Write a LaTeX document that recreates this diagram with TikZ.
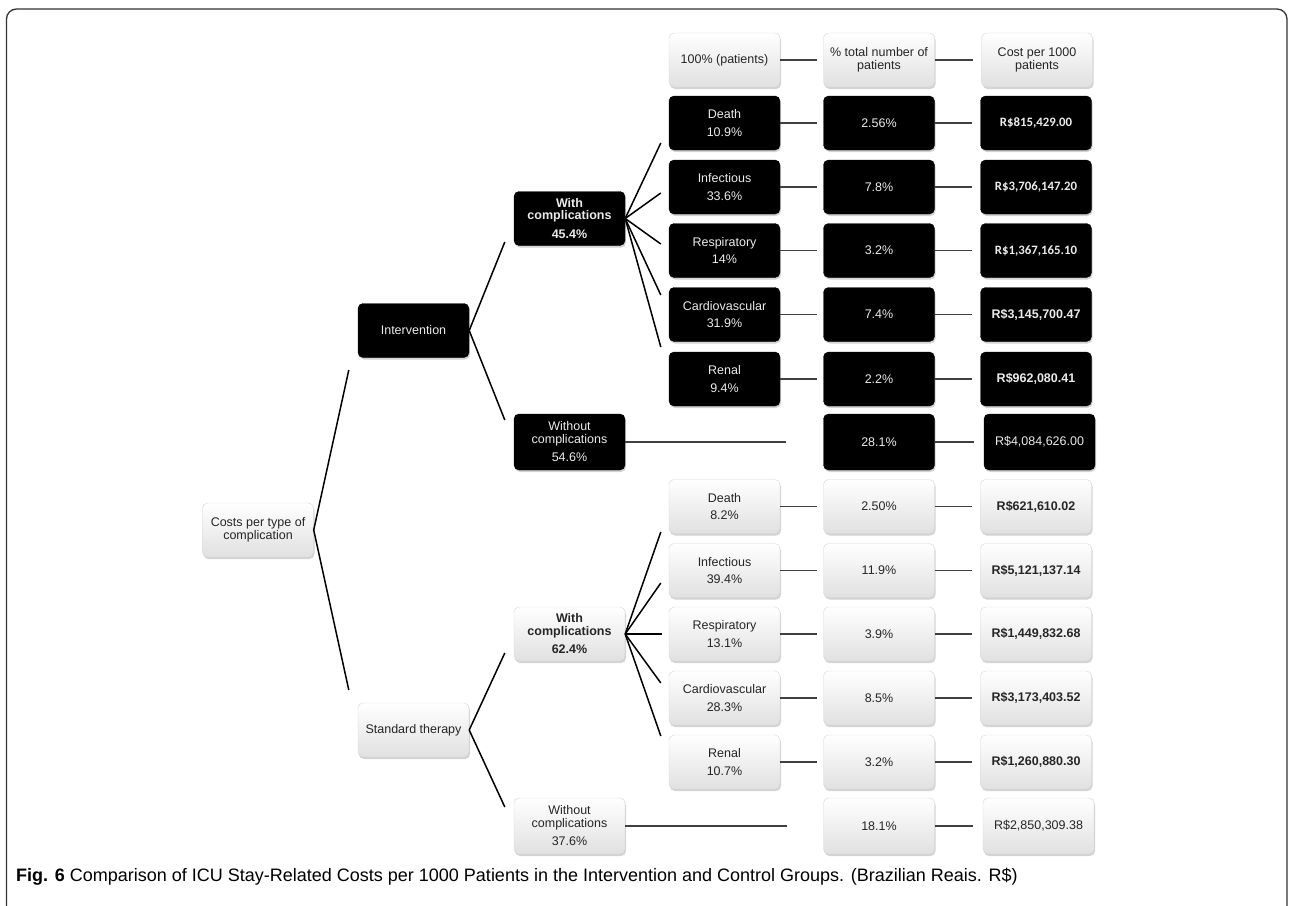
\documentclass[tikz,border=0pt]{standalone}
\usepackage{fontspec}
\setmainfont{Liberation Sans}
\newfontfamily\calib{Carlito}
\usetikzlibrary{calc,shadows}
\begin{document}
\begin{tikzpicture}[x=1bp,y=-1bp,
  box/.style={rounded corners=5bp, minimum width=111bp, minimum height=54bp,
    inner sep=0pt, align=center, font=\fontsize{12.5bp}{12.5bp}\selectfont},
  wbox/.style={box, draw=black!16, top color=white, bottom color=black!12,
    text=black!85, drop shadow={opacity=0.35, shadow xshift=1bp, shadow yshift=-2bp}},
  bbox/.style={box, fill=black, draw=black, text=white!92!black,
    drop shadow={opacity=0.35, shadow xshift=1bp, shadow yshift=-2bp}},
  tall/.style={minimum height=56bp},
  bf/.style={font=\fontsize{12.5bp}{12.5bp}\selectfont\bfseries},
  cbf/.style={font=\fontsize{12.8bp}{12.8bp}\selectfont\calib\bfseries},
  conn/.style={line width=1.5bp, black},
  rowc/.style={line width=1.6bp, black!75},
  frame/.style={line width=1.3bp, black!80, rounded corners=10bp}
]
\useasboundingbox (0,0) rectangle (1289,906);
\draw[frame] (6.5,915) -- (6.5,9) -- (1287,9) -- (1287,915);

% header
\node[wbox] (h1) at (724.5,60) {100\% (patients)};
\node[wbox] (h2) at (879,60) {\% total number of\\patients};
\node[wbox] (h3) at (1037,60) {Cost per 1000\\patients};

% tree
\node[wbox] (root) at (258,530) {Costs per type of\\complication};
\node[bbox] (int) at (413.5,330.5) {Intervention};
\node[wbox] (std) at (413.5,730) {Standard therapy};
\node[bbox,bf] (iw) at (569.5,218.5) {With\\complications\\[6bp]45.4\%};
\node[bbox,tall] (io) at (569.5,442) {Without\\complications\\[6bp]54.6\%};
\node[wbox,bf] (sw) at (569.5,634) {With\\complications\\[6bp]62.4\%};
\node[wbox,tall] (so) at (569.5,826) {Without\\complications\\[6bp]37.6\%};

% intervention rows
\node[bbox] (ia1) at (724.5,123) {Death\\[5bp]10.9\%};
\node[bbox] (ia2) at (724.5,187) {Infectious\\[5bp]33.6\%};
\node[bbox] (ia3) at (724.5,250.5) {Respiratory\\[5bp]14\%};
\node[bbox] (ia4) at (724.5,314.5) {Cardiovascular\\[5bp]31.9\%};
\node[bbox] (ia5) at (724.5,379) {Renal\\[5bp]9.4\%};

\node[bbox] (ib1) at (879,123) {2.56\%};
\node[bbox] (ib2) at (879,187) {7.8\%};
\node[bbox] (ib3) at (879,250.5) {3.2\%};
\node[bbox] (ib4) at (879,314.5) {7.4\%};
\node[bbox] (ib5) at (879,379) {2.2\%};
\node[bbox,tall] (ib6) at (879,442) {28.1\%};

\node[bbox,cbf] (ic1) at (1036,123) {R\$815,429.00};
\node[bbox,cbf] (ic2) at (1036,187) {R\$3,706,147.20};
\node[bbox,cbf] (ic3) at (1036,250.5) {R\$1,367,165.10};
\node[bbox,bf] (ic4) at (1036,314.5) {R\$3,145,700.47};
\node[bbox,bf] (ic5) at (1036,379) {R\$962,080.41};
\node[bbox,tall] (ic6) at (1039.5,442) {R\$4,084,626.00};

% standard rows
\node[wbox] (sa1) at (724.5,506.5) {Death\\[5bp]8.2\%};
\node[wbox] (sa2) at (724.5,570.5) {Infectious\\[5bp]39.4\%};
\node[wbox] (sa3) at (724.5,634) {Respiratory\\[5bp]13.1\%};
\node[wbox] (sa4) at (724.5,698) {Cardiovascular\\[5bp]28.3\%};
\node[wbox] (sa5) at (724.5,762) {Renal\\[5bp]10.7\%};

\node[wbox] (sb1) at (879,506.5) {2.50\%};
\node[wbox] (sb2) at (879,570.5) {11.9\%};
\node[wbox] (sb3) at (879,634) {3.9\%};
\node[wbox] (sb4) at (879,698) {8.5\%};
\node[wbox] (sb5) at (879,762) {3.2\%};
\node[wbox,tall] (sb6) at (879,826) {18.1\%};

\node[wbox,bf] (sc1) at (1036,506.5) {R\$621,610.02};
\node[wbox,bf] (sc2) at (1036,570.5) {R\$5,121,137.14};
\node[wbox,bf] (sc3) at (1036,634) {R\$1,449,832.68};
\node[wbox,bf] (sc4) at (1036,698) {R\$3,173,403.52};
\node[wbox,bf] (sc5) at (1036,762) {R\$1,260,880.30};
\node[wbox,tall] (sc6) at (1038.5,826) {R\$2,850,309.38};

% free ends of the "without" rows
\coordinate (ie) at (786,442);
\coordinate (se) at (787,826);

% tree connectors
\draw[conn] (root.east) -- ($(int.west)+(-9,39.5)$);
\draw[conn] (root.east) -- ($(std.west)+(-9,-40)$);
\draw[conn] (int.east) -- ($(iw.west)+(-9,23.5)$);
\draw[conn] (int.east) -- ($(io.west)+(-9,-22)$);
\draw[conn] (std.east) -- ($(sw.west)+(-9,19)$);
\draw[conn] (std.east) -- ($(so.west)+(-9,-19)$);

\draw[conn] (iw.east) -- ($(ia1.west)+(-8,20)$);
\draw[conn] (iw.east) -- ($(ia2.west)+(-8,6)$);
\draw[conn] (iw.east) -- ($(ia3.west)+(-8,-6.5)$);
\draw[conn] (iw.east) -- ($(ia4.west)+(-8,-19.5)$);
\draw[conn] (iw.east) -- ($(ia5.west)+(-8,-32)$);

\draw[conn] (sw.east) -- ($(sa1.west)+(-8,25.5)$);
\draw[conn] (sw.east) -- ($(sa2.west)+(-8,12.5)$);
\draw[conn] (sw.east) -- ($(sa3.west)+(-7,0)$);
\draw[conn] (sw.east) -- ($(sa4.west)+(-8,-15)$);
\draw[conn] (sw.east) -- ($(sa5.west)+(-8,-26)$);

% row connectors
\draw[rowc,shorten >=6bp] (h1.east) -- (h2.west);
\draw[rowc,shorten >=8bp] (h2.east) -- (h3.west);
\foreach \i in {1,...,5}{
  \draw[rowc,shorten >=6bp] (ia\i.east) -- (ib\i.west);
  \draw[rowc,shorten >=8bp] (ib\i.east) -- (ic\i.west);
  \draw[rowc,shorten >=6bp] (sa\i.east) -- (sb\i.west);
  \draw[rowc,shorten >=8bp] (sb\i.east) -- (sc\i.west);
}
\draw[rowc] (io.east) -- (ie);
\draw[rowc] (so.east) -- (se);
\draw[rowc,shorten >=10bp] (ib6.east) -- (ic6.west);
\draw[rowc,shorten >=10bp] (sb6.east) -- (sc6.west);

% caption
\node[anchor=west, inner sep=0pt, font=\fontsize{18bp}{18bp}\selectfont] (cap) at (16,877)
  {\textbf{Fig. 6} Comparison of ICU Stay-Related Costs per 1000 Patients in the Intervention and Control Groups. (Brazilian Reais. R\$)};
\end{tikzpicture}
\end{document}
